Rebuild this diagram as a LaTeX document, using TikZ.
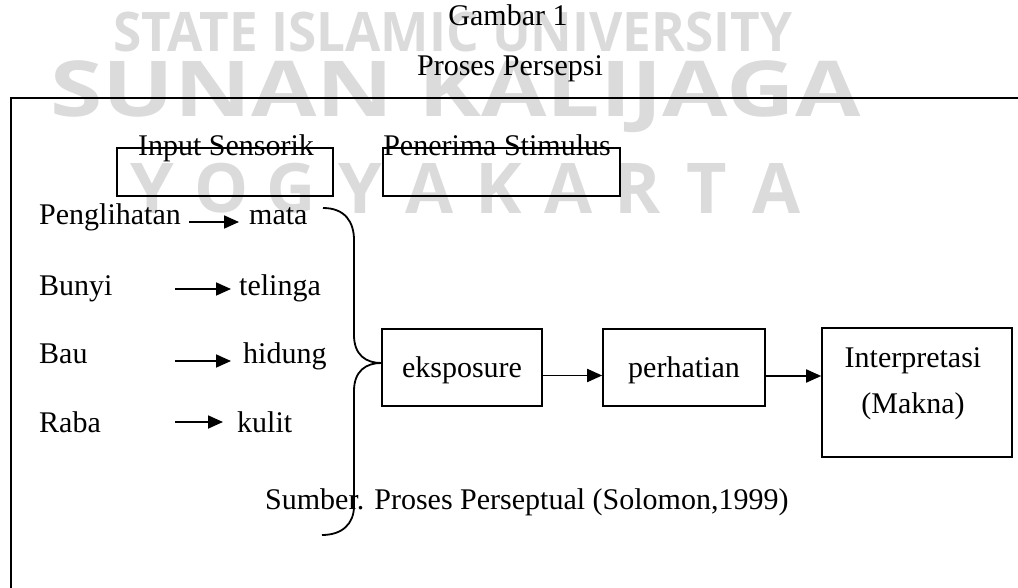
\documentclass[tikz,border=0pt]{standalone}
\usepackage{graphicx}
\usepackage{fontspec}
\setmainfont{Liberation Serif}
\newfontfamily\wmfont{Open Sans}
\usetikzlibrary{arrows.meta}
\begin{document}
\begin{tikzpicture}[x=1pt,y=-1pt,
  txt/.style={inner sep=0pt, font=\fontsize{30}{36}\selectfont},
  box/.style={draw, line width=1.6pt, inner sep=0pt},
  arr/.style={line width=1.8pt, -{Triangle[length=15pt,width=13pt]}},
  wm/.style={inner sep=0pt, text=black!14, font=\wmfont\bfseries},
  brace/.style={line width=1.8pt}]
\useasboundingbox (0,0) rectangle (1018,588);
% watermark
\node[wm, anchor=north west] (wm1) at (113,12) {\resizebox*{679pt}{40pt}{STATE ISLAMIC UNIVERSITY}};
\node[wm, anchor=north west] (wm2) at (50,60) {\resizebox*{810pt}{72pt}{SUNAN KALIJAGA}};
\foreach \l [count=\i from 0] in {Y,O,G,Y,A,K,A,R,T,A}{
  \node[wm, anchor=north] (wmy\i) at ({152+69.4*\i},163) {\resizebox*{!}{50pt}{\l}};
}
% frame
\draw[line width=2pt] (1018,98) -- (11,98) -- (11,588);
% titles
\node[txt, anchor=base] (g1) at (508,26) {Gambar 1};
\node[txt, anchor=base] (g2) at (510,76) {Proses Persepsi};
% header boxes
\node[box, minimum width=216pt, minimum height=48pt] (inbox) at (225,172) {};
\node[txt, anchor=base] (inlbl) at (226,156) {Input Sensorik};
\node[box, minimum width=237pt, minimum height=48pt] (pnbox) at (501.5,172) {};
\node[txt, anchor=base] (pnlbl) at (497,156) {Penerima Stimulus};
% senses
\node[txt, anchor=base west] (pen) at (39,225) {Penglihatan};
\node[txt, anchor=base west] (bun) at (39,295) {Bunyi};
\node[txt, anchor=base west] (bau) at (39,363) {Bau};
\node[txt, anchor=base west] (rab) at (39,432) {Raba};
\node[txt, anchor=base west] (mata) at (249,225) {mata};
\node[txt, anchor=base west] (tel) at (239,295) {telinga};
\node[txt, anchor=base west] (hid) at (243,363) {hidung};
\node[txt, anchor=base west] (kul) at (237,432) {kulit};
\coordinate (a1) at (189,222);
\coordinate (a2) at (175,289);
\coordinate (a3) at (175,361);
\coordinate (a4) at (175,422);
\draw[arr] (a1) -- ([xshift=-10pt]mata.west |- a1);
\draw[arr] (a2) -- ([xshift=-8pt]tel.west |- a2);
\draw[arr] (a3) -- ([xshift=-12pt]hid.west |- a3);
\draw[arr] (a4) -- ([xshift=-14pt]kul.west |- a4);
% process boxes
\node[box, txt, draw, minimum width=160pt, minimum height=77pt, text height=22pt, text depth=3pt] (eks) at (462,367.5) {eksposure};
\node[box, txt, draw, minimum width=162pt, minimum height=77pt, text height=22pt, text depth=3pt] (perh) at (684,367.5) {perhatian};
\node[box, minimum width=190pt, minimum height=129pt] (interp) at (917,392.5) {};
\node[txt, anchor=base] (int1) at (913,367) {Interpretasi};
\node[txt, anchor=base] (int2) at (913,413) {(Makna)};
\draw[arr] ([yshift=-8pt]eks.east) -- ([yshift=-8pt]eks.east -| perh.west);
\draw[arr] ([yshift=-8.5pt]perh.east) -- ([yshift=-8.5pt]perh.east -| interp.west);
% brace
\coordinate (tip) at ([yshift=4.5pt]eks.west);
\draw[brace] (323,208) .. controls (345,208) and (354,222) .. (354,240) -- (354,335)
  .. controls (354,355) and (366,363) .. (tip)
  .. controls (366,363) and (354,371) .. (354,391) -- (354,506)
  .. controls (354,524) and (342,535) .. (322,535);
% source
\node[txt, anchor=base west] (src) at (265,509) {Sumber. Proses Perseptual (Solomon,1999)};
\end{tikzpicture}
\end{document}
